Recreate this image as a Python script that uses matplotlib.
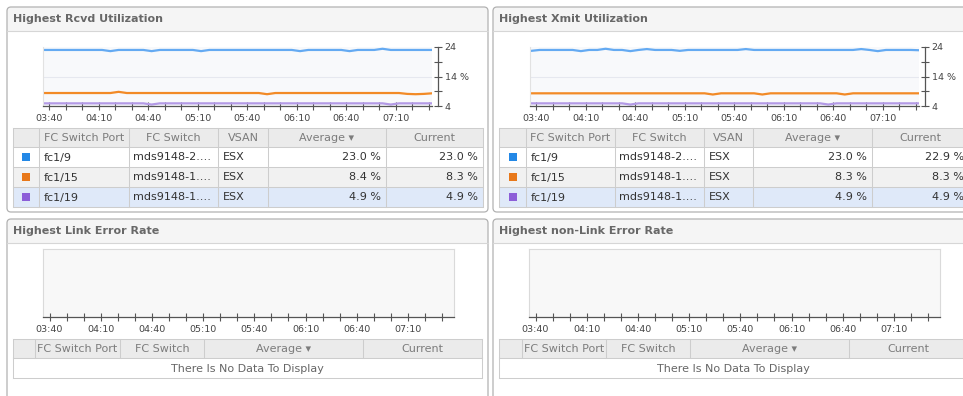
import matplotlib
matplotlib.use("Agg")
import numpy as np
import pandas as pd
import matplotlib.pyplot as plt
import matplotlib.dates as mdates
from matplotlib.patches import Rectangle, FancyBboxPatch
from matplotlib.ticker import FixedLocator, FixedFormatter, NullLocator

plt.rcParams["font.family"] = ["DejaVu Sans"]

W, H = 963, 396

# 5 minute samples
times = pd.date_range("2014-05-12 03:37", periods=48, freq="5min")

rcvd_fc1_9 = [23.0, 23.0, 23.0, 23.0, 23.0, 23.0, 23.0, 23.0, 22.6, 23.0, 23.0, 23.0,
              23.0, 22.6, 23.0, 23.0, 23.0, 23.0, 23.0, 22.6, 23.0, 23.0, 23.0, 23.0,
              23.0, 23.0, 23.0, 23.0, 23.0, 23.0, 23.0, 22.6, 23.0, 23.0, 23.0, 23.0,
              23.0, 22.6, 23.0, 23.0, 23.0, 23.4, 23.0, 23.0, 23.0, 23.0, 23.0, 23.0]
rcvd_fc1_15 = [8.4, 8.4, 8.4, 8.4, 8.4, 8.4, 8.4, 8.4, 8.4, 8.8, 8.4, 8.4,
               8.4, 8.4, 8.4, 8.4, 8.4, 8.4, 8.4, 8.4, 8.4, 8.4, 8.4, 8.4,
               8.4, 8.4, 8.4, 8.0, 8.4, 8.4, 8.4, 8.4, 8.4, 8.4, 8.4, 8.4,
               8.4, 8.4, 8.4, 8.4, 8.4, 8.4, 8.4, 8.4, 8.1, 8.0, 8.1, 8.3]
rcvd_fc1_19 = [4.9, 4.9, 4.9, 4.9, 4.9, 4.9, 4.9, 4.9, 4.9, 4.9, 4.9, 4.9,
               4.9, 4.5, 4.9, 4.9, 4.9, 4.9, 4.9, 4.9, 4.9, 4.9, 4.9, 4.9,
               4.9, 4.9, 4.9, 4.9, 4.9, 4.9, 4.9, 4.9, 4.9, 4.9, 4.9, 4.9,
               4.9, 4.9, 4.9, 4.9, 4.9, 4.9, 4.5, 4.9, 4.9, 4.9, 4.9, 4.9]

xmit_fc1_9 = [22.7, 23.0, 23.0, 23.0, 23.0, 23.0, 22.6, 23.0, 23.0, 23.4, 23.0, 23.0,
              22.6, 23.0, 23.3, 23.0, 23.0, 23.0, 22.7, 23.0, 23.0, 23.0, 23.0, 23.0,
              23.0, 23.0, 23.3, 23.0, 23.0, 23.0, 23.0, 23.0, 23.0, 23.0, 23.0, 23.0,
              23.0, 23.0, 23.0, 23.0, 23.3, 23.0, 22.6, 23.0, 23.0, 23.0, 23.0, 22.9]
xmit_fc1_15 = [8.3, 8.3, 8.3, 8.3, 8.3, 8.3, 8.3, 8.3, 8.3, 8.3, 8.3, 8.3,
               8.3, 8.3, 8.3, 8.3, 8.3, 8.3, 8.3, 8.3, 8.3, 8.3, 7.9, 8.3,
               8.3, 8.3, 8.3, 8.3, 7.9, 8.3, 8.3, 8.3, 8.3, 8.3, 8.3, 8.3,
               8.3, 8.3, 7.9, 8.3, 8.3, 8.3, 8.3, 8.3, 8.3, 8.3, 8.3, 8.3]
xmit_fc1_19 = [4.9, 4.9, 4.9, 4.9, 4.9, 4.9, 4.9, 4.9, 4.9, 4.9, 4.9, 4.9,
               4.5, 4.9, 4.9, 4.9, 4.9, 4.9, 4.9, 4.9, 4.9, 4.9, 4.9, 4.9,
               4.9, 4.9, 4.9, 4.9, 4.9, 4.9, 4.9, 4.9, 4.9, 4.9, 4.9, 4.9,
               4.5, 4.9, 4.9, 4.9, 4.9, 4.9, 4.9, 4.9, 4.9, 4.9, 4.9, 4.9]

ports = ["fc1/9", "fc1/15", "fc1/19"]
switches = ["mds9148-2.\u2026", "mds9148-1.\u2026", "mds9148-1.\u2026"]
vsans = ["ESX", "ESX", "ESX"]

line_colors = ["#64aaf2", "#f28a26", "#b39ae6"]
swatch_colors = ["#2388e6", "#e8781a", "#8c5ed8"]
row_fills = ["white", "#f1f1f1", "#dfe9f9"]

GRID = "#cdcdcd"
HEAD_BG = "#ebebeb"
HEAD_TXT = "#7c7c7c"
BODY_TXT = "#333333"
FS = 8

fig = plt.figure(figsize=(W / 100, H / 100), dpi=100)
bg = fig.add_axes([0, 0, 1, 1])
bg.set_xlim(0, W)
bg.set_ylim(H, 0)
bg.axis("off")


def px_axes(x0, y0, x1, y1):
    return fig.add_axes([x0 / W, 1 - y1 / H, (x1 - x0) / W, (y1 - y0) / H])


def panel(x0, y0, x1, y1, title):
    bg.add_patch(FancyBboxPatch((x0, y0), x1 - x0, y1 - y0,
                                boxstyle="round,pad=0,rounding_size=4",
                                fc="white", ec="none"))
    bg.add_patch(FancyBboxPatch((x0, y0), x1 - x0, 24,
                                boxstyle="round,pad=0,rounding_size=4",
                                fc="#f5f5f5", ec="none"))
    bg.add_patch(Rectangle((x0, y0 + 12), x1 - x0, 12, fc="#f5f5f5", ec="none"))
    bg.plot([x0, x1], [y0 + 24, y0 + 24], color="#d6d6d6", lw=0.8)
    bg.add_patch(FancyBboxPatch((x0, y0), x1 - x0, y1 - y0,
                                boxstyle="round,pad=0,rounding_size=4",
                                fc="none", ec="#b2b2b2", lw=0.9))
    bg.text(x0 + 6, y0 + 12.5, title, fontsize=FS, fontweight="bold",
            color="#686868", va="center", ha="left")


def hline(x0, x1, y, color=GRID):
    bg.plot([x0, x1], [y, y], color=color, lw=0.75)


def vline(x, y0, y1, color=GRID):
    bg.plot([x, x], [y0, y1], color=color, lw=0.75)


def util_table(xs, y0, avg_txt, cur_txt):
    ys = [y0, y0 + 19, y0 + 39, y0 + 59, y0 + 79]
    bg.add_patch(Rectangle((xs[0], ys[0]), xs[-1] - xs[0], ys[1] - ys[0],
                           fc=HEAD_BG, ec="none"))
    for i, fill in enumerate(row_fills):
        bg.add_patch(Rectangle((xs[0], ys[i + 1]), xs[-1] - xs[0], 20,
                               fc=fill, ec="none"))
    for y in ys:
        hline(xs[0], xs[-1], y)
    for x in xs:
        vline(x, ys[0], ys[-1])
    heads = ["", "FC Switch Port", "FC Switch", "VSAN", "Average \u25be", "Current"]
    for i, h in enumerate(heads):
        bg.text((xs[i] + xs[i + 1]) / 2, (ys[0] + ys[1]) / 2 + 0.5, h,
                fontsize=FS, color=HEAD_TXT, ha="center", va="center")
    for r in range(3):
        yc = (ys[r + 1] + ys[r + 2]) / 2 + 0.5
        xc = (xs[0] + xs[1]) / 2
        bg.add_patch(Rectangle((xc - 4, yc - 4.5), 8, 8,
                               fc=swatch_colors[r], ec="none"))
        bg.text(xs[1] + 5, yc, ports[r], fontsize=FS, color=BODY_TXT, va="center")
        bg.text(xs[2] + 4, yc, switches[r], fontsize=FS, color=BODY_TXT, va="center")
        bg.text(xs[3] + 5, yc, vsans[r], fontsize=FS, color=BODY_TXT, va="center")
        bg.text(xs[5] - 5, yc, avg_txt[r], fontsize=FS, color=BODY_TXT,
                va="center", ha="right")
        bg.text(xs[6] - 5, yc, cur_txt[r], fontsize=FS, color=BODY_TXT,
                va="center", ha="right")


def error_table(xs, y0):
    ys = [y0, y0 + 19, y0 + 39]
    bg.add_patch(Rectangle((xs[0], ys[0]), xs[-1] - xs[0], 19, fc=HEAD_BG, ec="none"))
    for y in ys:
        hline(xs[0], xs[-1], y)
    for x in xs:
        vline(x, ys[0], ys[1])
    vline(xs[0], ys[1], ys[2])
    vline(xs[-1], ys[1], ys[2])
    heads = ["", "FC Switch Port", "FC Switch", "Average \u25be", "Current"]
    for i, h in enumerate(heads):
        bg.text((xs[i] + xs[i + 1]) / 2, (ys[0] + ys[1]) / 2 + 0.5, h,
                fontsize=FS, color=HEAD_TXT, ha="center", va="center")
    bg.text((xs[0] + xs[-1]) / 2, (ys[1] + ys[2]) / 2 + 0.5,
            "There Is No Data To Display", fontsize=FS, color="#666666",
            ha="center", va="center")


def time_axis(ax, t0, t1):
    ax.set_xlim(pd.Timestamp(t0), pd.Timestamp(t1))
    ax.xaxis.set_major_locator(mdates.MinuteLocator(byminute=[10, 40]))
    ax.xaxis.set_major_formatter(mdates.DateFormatter("%H:%M"))
    ax.xaxis.set_minor_locator(mdates.MinuteLocator(byminute=[0, 20, 30, 50]))
    ax.tick_params(axis="x", which="both", direction="inout", length=6,
                   width=0.8, color="#555555", labelsize=6.8,
                   labelcolor="#444444", pad=2.5)
    ax.spines["bottom"].set_color("#555555")
    ax.spines["bottom"].set_linewidth(0.9)


def util_chart(x0, series):
    ax = px_axes(x0, 47, x0 + 389, 106)
    ax.set_facecolor("#f8f9fb")
    ax.axhline(14, color="#e6e8ef", lw=0.8, zorder=0)
    for vals, c in zip(series, line_colors):
        ax.plot(times, vals, color=c, lw=1.6, solid_joinstyle="round")
    ax.set_ylim(4, 24)
    time_axis(ax, "2014-05-12 03:36:10", "2014-05-12 07:32")
    ax.yaxis.tick_right()
    ax.yaxis.set_major_locator(FixedLocator([4, 14, 24]))
    ax.yaxis.set_major_formatter(FixedFormatter(["4", "14 %", "24"]))
    ax.yaxis.set_minor_locator(FixedLocator([9, 19]))
    ax.tick_params(axis="y", which="both", direction="inout", length=6,
                   width=0.8, color="#555555", labelsize=6.8,
                   labelcolor="#444444", pad=1.5)
    ax.spines["right"].set_position(("outward", 4.5))
    ax.spines["right"].set_color("#555555")
    ax.spines["right"].set_linewidth(0.9)
    ax.spines["left"].set_color("#e2e2e2")
    ax.spines["top"].set_visible(False)
    return ax


def error_chart(x0):
    ax = px_axes(x0, 249, x0 + 411, 317)
    ax.set_facecolor("#f8f8f8")
    for side in ["left", "top", "right"]:
        ax.spines[side].set_color("#dadada")
        ax.spines[side].set_linewidth(0.8)
    time_axis(ax, "2014-05-12 03:36:10", "2014-05-12 07:37")
    ax.set_ylim(0, 1)
    ax.yaxis.set_major_locator(NullLocator())
    return ax


# panels
panel(7, 7, 488, 212, "Highest Rcvd Utilization")
panel(493, 7, 975, 212, "Highest Xmit Utilization")
panel(7, 219, 488, 420, "Highest Link Error Rate")
panel(493, 219, 975, 420, "Highest non-Link Error Rate")

# utilization panels
rcvd = [rcvd_fc1_9, rcvd_fc1_15, rcvd_fc1_19]
xmit = [xmit_fc1_9, xmit_fc1_15, xmit_fc1_19]

util_chart(43, rcvd)
util_chart(530, xmit)

util_table([13, 39, 129, 218, 268, 386, 483], 128,
           [f"{np.mean(s):.1f} %" for s in rcvd],
           [f"{s[-1]:.1f} %" for s in rcvd])
util_table([499, 526, 615, 704, 753, 872, 969], 128,
           [f"{np.mean(s):.1f} %" for s in xmit],
           [f"{s[-1]:.1f} %" for s in xmit])

# error rate panels (no data)
error_chart(43)
error_chart(529)
error_table([13, 35, 120, 204, 363, 482], 339)
error_table([499, 522, 606, 690, 849, 968], 339)

fig.savefig("out.png", dpi=100)
